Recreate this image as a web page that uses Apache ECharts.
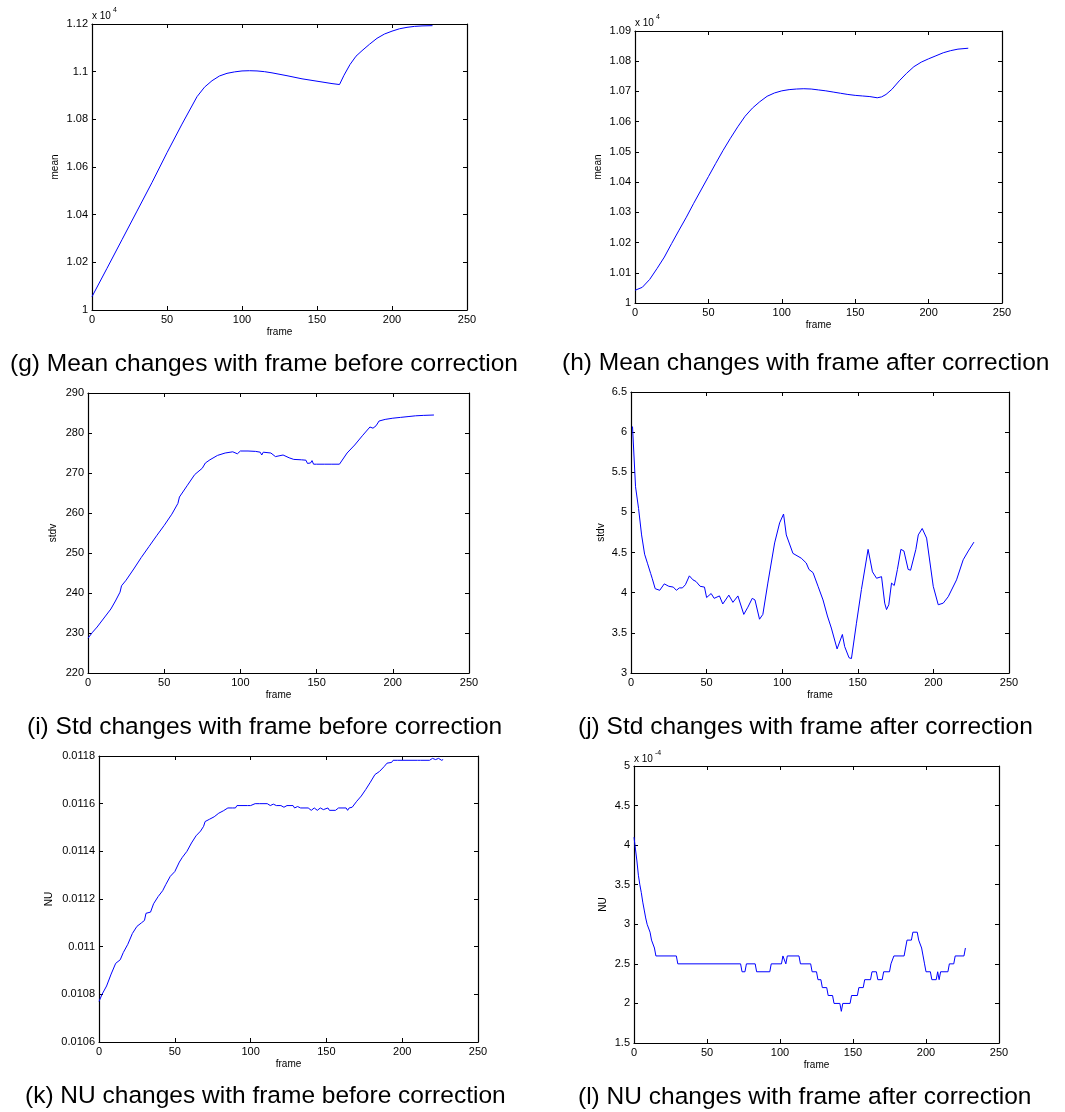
<!DOCTYPE html>
<html><head><meta charset="utf-8">
<script src="https://cdn.jsdelivr.net/npm/echarts@6/dist/echarts.min.js"></script>
<style>html,body{margin:0;padding:0;background:#fff}#c{width:1065px;height:1112px}</style>
</head><body><div id="c"></div>
<script>
// ---------- DATA ----------
const frameTicks = [0, 50, 100, 150, 200, 250];

// (g) mean before correction
const gFrames = [0,10,20,30,40,50,60,70,75,80,85,90,95,100,105,110,115,120,130,140,150,160,165,168,172,176,180,185,190,195,200,205,210,215,220,227];
const gMean   = [10056,10175,10295,10415,10535,10660,10780,10895,10935,10962,10982,10993,10999,11003,11004,11003,11000,10995,10983,10970,10960,10950,10946,10985,11030,11065,11088,11115,11140,11158,11170,11180,11186,11190,11192,11193];

// (h) mean after correction
const hFrames = [0,5,10,15,20,25,30,35,40,45,50,55,60,65,70,75,80,85,90,95,100,105,110,115,120,125,130,135,140,145,150,155,160,165,168,171,175,180,185,190,195,200,205,210,215,220,227];
const hMean   = [10042,10052,10078,10114,10152,10197,10241,10284,10330,10374,10418,10462,10505,10545,10583,10618,10645,10666,10684,10695,10702,10706,10708,10709,10708,10705,10702,10698,10694,10690,10687,10685,10683,10679,10682,10690,10707,10735,10760,10782,10797,10808,10818,10828,10835,10840,10843];

// (i) std before correction
const iFrames = [0,3,6,9,12,15,18,21,22,23,25,30,35,40,45,50,55,59,60,65,70,75,77,78,80,85,90,95,98,100,105,110,113,114,115,120,123,124,128,132,135,140,143,144,146,147,148,150,155,160,165,170,175,180,185,187,189,191,195,200,205,210,215,220,227];
const iStd    = [228.7,230.2,231.5,233.0,234.5,236.0,238.0,240.2,241.8,241.3,243.2,246.0,248.9,251.6,254.3,256.9,259.7,262.4,264.0,266.8,269.6,271.2,272.5,272.2,273.3,274.4,275.0,275.3,274.8,275.5,275.5,275.4,275.2,274.5,275.2,275.0,274.1,274.6,274.5,273.8,273.4,273.3,273.2,272.4,272.5,273.1,272.2,272.2,272.2,272.2,272.2,275.0,277.0,279.3,281.5,281.2,281.8,283.0,283.4,283.7,283.9,284.1,284.3,284.4,284.5];

// (j) std after correction
const jFrames = [1,3,5,7,9,11,13,14,16,19,22,25,28,30,32,34,36,38.6,41,43,45.7,48.6,50,53,55,58.5,60.7,64.7,67.4,70.7,74.6,77.3,80.2,82,85,87.2,90.5,95,98.3,100.9,102.7,107.1,112.6,115.9,117.7,120.4,123.7,127,129.9,132.5,133.6,136.3,139.8,141.3,144.2,145.8,149.1,152.4,156.8,159.7,162.4,165.7,167.8,169,170.5,172.3,174.1,176.2,178.5,180.5,183.3,184.9,188.4,190,192.6,195.5,199.9,203.2,206.5,209.8,215.3,219.7,223.1,226.8];
const jStd    = [6.07,5.32,5.05,4.72,4.48,4.36,4.24,4.18,4.05,4.03,4.11,4.08,4.07,4.03,4.06,4.06,4.10,4.21,4.16,4.14,4.08,4.07,3.94,3.99,3.93,3.96,3.86,3.97,3.88,3.96,3.73,3.82,3.93,3.91,3.67,3.73,4.12,4.62,4.87,4.98,4.72,4.49,4.43,4.37,4.29,4.25,4.08,3.91,3.71,3.56,3.56,3.30,3.48,3.33,3.19,3.18,3.62,4.04,4.54,4.26,4.18,4.20,3.87,3.79,3.85,4.12,4.09,4.29,4.54,4.52,4.29,4.28,4.54,4.72,4.80,4.68,4.08,3.85,3.87,3.95,4.16,4.41,4.52,4.63];

// (k) NU before correction
const kFrames = [0,2,5,8,11,14,16,19,22,25,28,30,31,34,36,39,42,44,47,50,53,55,58,61,64,67,69,70,73,76,79,82,85,88,90,91,98,99,100,103,104,106,111,113,115,117,118,120,122,124,128,129,131,133,138,140,142,144,146,148,151,152,156,158,163,164,165,167,170,173,176,179,182,185,188,190,193,194,195,197,210,211,212,218,220,222,224,226,227];
const kNU     = [0.010770,0.010800,0.010835,0.010885,0.010930,0.010945,0.010975,0.011010,0.011055,0.011085,0.011100,0.011110,0.011140,0.011145,0.011180,0.011210,0.011235,0.011260,0.011295,0.011315,0.011355,0.011375,0.011400,0.011435,0.011465,0.011485,0.011505,0.011525,0.011535,0.011545,0.011560,0.011570,0.011582,0.011582,0.011582,0.011592,0.011592,0.011598,0.011592,0.011600,0.011592,0.011600,0.011600,0.011592,0.011598,0.011592,0.011598,0.011592,0.011585,0.011592,0.011592,0.011582,0.011588,0.011582,0.011582,0.011572,0.011582,0.011572,0.011582,0.011575,0.011582,0.011572,0.011572,0.011582,0.011582,0.011572,0.011582,0.011585,0.011610,0.011632,0.011660,0.011690,0.011722,0.011735,0.011755,0.011770,0.011773,0.011782,0.011775,0.011782,0.011782,0.011790,0.011782,0.011782,0.011790,0.011785,0.011790,0.011782,0.011785];

// (l) NU after correction
const lFrames = [0,1,2,3,4,5,6,7,8,9,10,11,12,13,14,15,29,30,73,74,76,77,83,84,93,94,101,102,103,104,105,113,114,121,122,125,126,128,129,132,133,136,137,141,142,143,148,149,153,154,157,158,162,163,166,167,170,171,175,176,177,178,185,186,187,190,191,194,195,196,197,198,199,200,203,204,207,208,209,210,215,216,219,220,226,227];
const lNU     = [4.1e-4,3.95e-4,3.8e-4,3.62e-4,3.5e-4,3.4e-4,3.28e-4,3.18e-4,3.08e-4,3.0e-4,3.0e-4,2.9e-4,2.8e-4,2.8e-4,2.7e-4,2.6e-4,2.6e-4,2.5e-4,2.5e-4,2.4e-4,2.4e-4,2.5e-4,2.5e-4,2.4e-4,2.4e-4,2.5e-4,2.5e-4,2.6e-4,2.6e-4,2.5e-4,2.6e-4,2.6e-4,2.5e-4,2.5e-4,2.4e-4,2.4e-4,2.3e-4,2.3e-4,2.2e-4,2.2e-4,2.1e-4,2.1e-4,2.0e-4,2.0e-4,1.9e-4,2.0e-4,2.0e-4,2.1e-4,2.1e-4,2.2e-4,2.2e-4,2.3e-4,2.3e-4,2.4e-4,2.4e-4,2.3e-4,2.3e-4,2.4e-4,2.4e-4,2.5e-4,2.5e-4,2.6e-4,2.6e-4,2.7e-4,2.8e-4,2.8e-4,2.9e-4,2.9e-4,2.8e-4,2.8e-4,2.7e-4,2.6e-4,2.5e-4,2.4e-4,2.4e-4,2.3e-4,2.3e-4,2.4e-4,2.3e-4,2.4e-4,2.4e-4,2.5e-4,2.5e-4,2.6e-4,2.6e-4,2.7e-4];

const captions = [
  '(g) Mean changes with frame before correction',
  '(h) Mean changes with frame after correction',
  '(i) Std changes with frame before correction',
  '(j) Std changes with frame after correction',
  '(k) NU changes with frame before correction',
  '(l) NU changes with frame after correction'
];
const yNames = ['mean', 'mean', 'stdv', 'stdv', 'NU', 'NU'];
const xName = 'frame';

// ---------- LAYOUT / STYLE ----------
const FONT = '"Liberation Sans", Arial, Helvetica, sans-serif';
const panels = [
  {grid:{left:92, top:24, width:375, height:286}, min:10000, max:11200, interval:200, fmt:v=>String(+(v/1e4).toFixed(4)), gap:32, fr:gFrames, vals:gMean},
  {grid:{left:635, top:31, width:367, height:272}, min:10000, max:10900, interval:100, fmt:v=>String(+(v/1e4).toFixed(4)), gap:32, fr:hFrames, vals:hMean},
  {grid:{left:88, top:393, width:381, height:280}, min:220, max:290, interval:10, fmt:v=>String(Math.round(v)), gap:30, fr:iFrames, vals:iStd},
  {grid:{left:631, top:392, width:378, height:281}, min:3, max:6.5, interval:0.5, fmt:v=>String(+v.toFixed(2)), gap:25, fr:jFrames, vals:jStd},
  {grid:{left:99, top:756, width:379, height:286}, min:0.0106, max:0.0118, interval:0.0002, fmt:v=>String(+v.toFixed(4)), gap:45, fr:kFrames, vals:kNU},
  {grid:{left:634, top:766, width:365, height:277}, min:1.5e-4, max:5e-4, interval:0.5e-4, fmt:v=>String(+(v*1e4).toFixed(2)), gap:26, fr:lFrames, vals:lNU}
];
const capPos = [[10,364],[562,363],[27,727],[578,727],[25,1096],[578,1097]];
const expPos = [[92,11,'4'],[635,18,'4'],null,null,null,[634,754,'-4']];

const grids = [], xAxes = [], yAxes = [], series = [], graphics = [];
const lineCol = '#000';
panels.forEach((p, i) => {
  grids.push(Object.assign({containLabel:false}, p.grid));
  const tick = {show:true, inside:true, length:4, lineStyle:{color:lineCol, width:1}};
  const line = {show:true, onZero:false, lineStyle:{color:lineCol, width:1.2}};
  xAxes.push({type:'value', gridIndex:i, position:'bottom', min:frameTicks[0], max:frameTicks[frameTicks.length-1], interval:frameTicks[1]-frameTicks[0],
    axisLine:line, axisTick:tick, splitLine:{show:false},
    axisLabel:{color:'#000', fontSize:11, fontFamily:FONT, margin:4},
    name:xName, nameLocation:'middle', nameGap:17, nameTextStyle:{color:'#000', fontSize:10, fontFamily:FONT}});
  xAxes.push({type:'value', gridIndex:i, position:'top', min:frameTicks[0], max:frameTicks[frameTicks.length-1], interval:frameTicks[1]-frameTicks[0],
    axisLine:line, axisTick:tick, splitLine:{show:false}, axisLabel:{show:false}});
  yAxes.push({type:'value', gridIndex:i, position:'left', min:p.min, max:p.max, interval:p.interval,
    axisLine:line, axisTick:tick, splitLine:{show:false},
    axisLabel:{color:'#000', fontSize:11, fontFamily:FONT, margin:4, formatter:p.fmt},
    name:yNames[i], nameLocation:'middle', nameGap:p.gap, nameRotate:90, nameTextStyle:{color:'#000', fontSize:10, fontFamily:FONT}});
  yAxes.push({type:'value', gridIndex:i, position:'right', min:p.min, max:p.max, interval:p.interval,
    axisLine:line, axisTick:tick, splitLine:{show:false}, axisLabel:{show:false}});
  series.push({type:'line', xAxisIndex:2*i, yAxisIndex:2*i, showSymbol:false, symbol:'none',
    lineStyle:{color:'#0000ff', width:1}, data:p.fr.map((f, k) => [f, p.vals[k]]), animation:false});
  graphics.push({type:'text', x:capPos[i][0], y:capPos[i][1],
    style:{text:captions[i], fill:'#000', font:'24.5px ' + FONT, align:'left', verticalAlign:'middle'}});
  if (expPos[i]) {
    graphics.push({type:'text', x:expPos[i][0], y:expPos[i][1],
      style:{text:'x 10', fill:'#000', font:'10px ' + FONT, align:'left', verticalAlign:'top'}});
    graphics.push({type:'text', x:expPos[i][0] + 21, y:expPos[i][1] - 4,
      style:{text:expPos[i][2], fill:'#000', font:'7px ' + FONT, align:'left', verticalAlign:'top'}});
  }
});

const chart = echarts.init(document.getElementById('c'), null, {renderer:'canvas'});
chart.setOption({animation:false, backgroundColor:'#fff', grid:grids, xAxis:xAxes, yAxis:yAxes, series:series, graphic:graphics});
</script>
</body></html>
